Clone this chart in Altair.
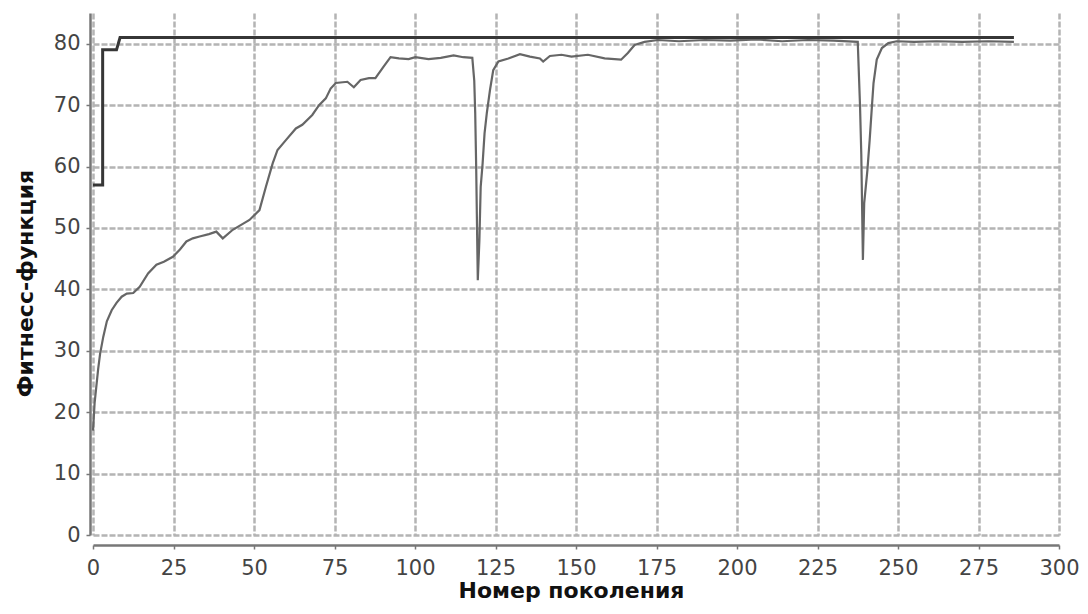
import altair as alt
import pandas as pd

# Best fitness (dark line)
best_gen = [0, 3, 3, 7.3, 8.4, 286]
best_val = [57, 57, 79, 79, 81, 81]

# Mean fitness (grey line)
mean_gen = [0, 0.5, 1, 1.6, 2.2, 3.2, 4.3, 5.8, 7.3, 8.9, 10.5, 12.5, 14.5, 17.1, 19.7, 22,
            24.8, 27, 29, 31, 33.1, 36, 38.3, 40.3, 43.4, 46, 48.6, 51.7, 53.7, 55.8, 57.3,
            59.9, 63, 65, 68.1, 70.2, 72.3, 73.8, 75.4, 79, 81, 83.1, 85.7, 87.7, 90.3, 92.4,
            95, 98, 100.1, 104.2, 108, 112, 115, 117.8, 118.4, 118.7, 119.0, 119.2, 119.5,
            120, 120.4, 121, 121.6, 122.3, 123.3, 124.3, 125.9, 129, 132.6, 135.7, 138.8,
            139.8, 141.9, 145.5, 148.6, 153.7, 158.9, 164, 166.1, 168.2, 171.3, 175.4, 182,
            190, 198, 206, 214, 222, 230, 237.5, 238.2, 238.6, 239.1, 239.5, 240.5, 241.2,
            241.9, 242.4, 243.4, 245, 247, 249.6, 255, 262, 270, 278, 286]
mean_val = [17.0, 21.5, 24, 27, 29.5, 32.3, 34.8, 36.6, 37.8, 38.8, 39.3, 39.4, 40.4, 42.6, 44.0, 44.5,
            45.3, 46.5, 47.8, 48.3, 48.6, 49.0, 49.4, 48.3, 49.7, 50.5, 51.3, 52.9, 56.7, 60.5, 62.7,
            64.3, 66.2, 66.8, 68.4, 70.0, 71.1, 72.7, 73.6, 73.8, 72.9, 74.1, 74.4, 74.4, 76.3, 77.8,
            77.6, 77.5, 77.8, 77.5, 77.7, 78.1, 77.8, 77.7, 74, 68.7, 60, 52.4, 41.5,
            48, 56.7, 60.5, 65.4, 68.7, 72.5, 75.7, 77.1, 77.6, 78.3, 77.9, 77.6,
            77.1, 78.0, 78.2, 77.9, 78.2, 77.6, 77.4, 78.5, 79.8, 80.3, 80.6, 80.4,
            80.6, 80.5, 80.7, 80.4, 80.6, 80.5, 80.3, 70, 62, 44.8, 54, 59.4, 64.3,
            69.8, 73.6, 77.4, 79.3, 80.1, 80.4, 80.3, 80.4, 80.3, 80.4, 80.3]

x_ticks = [0, 25, 50, 75, 100, 125, 150, 175, 200, 225, 250, 275, 300]
y_ticks = [0, 10, 20, 30, 40, 50, 60, 70, 80]

best_df = pd.DataFrame({"gen": best_gen, "val": best_val, "i": list(range(len(best_gen)))})
mean_df = pd.DataFrame({"gen": mean_gen, "val": mean_val, "i": list(range(len(mean_gen)))})

x_scale = alt.Scale(domain=[0, 300], nice=False, zero=False)
y_scale = alt.Scale(domain=[0, 85], nice=False)

# grid-only x axis (no offset) so vertical grid lines stop at the plot bottom
x_grid = alt.X("gen:Q", scale=x_scale,
               axis=alt.Axis(values=x_ticks, title=None, grid=True, domain=False,
                             ticks=False, labels=False, offset=0, orient="bottom"))
# visible x axis, offset below the plot, no grid
x_main = alt.X("gen:Q", scale=x_scale,
               axis=alt.Axis(values=x_ticks, title="Номер поколения", grid=False,
                             offset=10, titlePadding=2, labelPadding=8, orient="bottom",
                             labelFlush=False, titleX=478, titleFontSize=22))
y_enc = alt.Y("val:Q", scale=y_scale,
              axis=alt.Axis(values=y_ticks, title="Фитнесс-функция", offset=3,
                            titlePadding=16, labelPadding=6, grid=True,
                            labelFlush=False, titleY=270, titleFontSize=22))

mean_line = alt.Chart(mean_df).mark_line(color="#666666", strokeWidth=2.2).encode(
    x=x_grid, y=y_enc, order="i:Q")
best_line = alt.Chart(best_df).mark_line(color="#363636", strokeWidth=3).encode(
    x=x_main, y=y_enc, order="i:Q")

chart = alt.layer(mean_line, best_line).resolve_axis(x="independent").properties(
    width=966, height=522,
    autosize=alt.AutoSizeParams(type="none"),
    padding={"left": 85, "top": 5, "right": 21, "bottom": 72},
).configure_view(stroke=None).configure_axis(
    gridColor="#b4b4b4",
    gridWidth=2.5,
    gridDash=[6, 2],
    domainColor="#777777",
    domainWidth=2.5,
    tickColor="#777777",
    tickSize=4,
    tickWidth=1.5,
    labelFont="DejaVu Sans",
    labelFontSize=21,
    labelColor="#444444",
    titleFont="DejaVu Sans",
    titleFontWeight="bold",
    titleColor="#111111",
)

chart.save("out.html", embed_options={"renderer": "svg", "actions": False})
